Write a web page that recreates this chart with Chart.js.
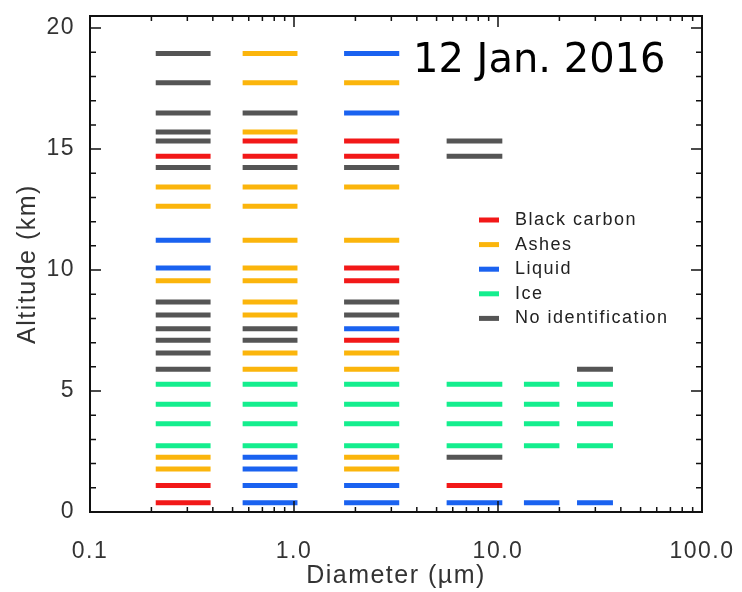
<!DOCTYPE html>
<html>
<head>
<meta charset="utf-8">
<script src="https://cdn.jsdelivr.net/npm/chart.js@4.4.1/dist/chart.umd.min.js"></script>
<style>
  html, body { margin: 0; padding: 0; background: #fff; }
  #wrap { width: 742px; height: 592px; }
</style>
</head>
<body>
<div id="wrap"><canvas id="chart"></canvas></div>
<script>
const binLow = [0.21, 0.56, 1.76, 5.6, 13.4, 24.4]
const binHigh = [0.39, 1.04, 3.28, 10.5, 20.0, 36.6]
const altitudes = [18.95, 17.74, 16.49, 15.71, 15.33, 14.70, 14.24, 13.43, 12.64, 11.23, 10.08, 9.56, 8.68,
  8.14, 7.57, 7.10, 6.57, 5.90, 5.28, 4.45, 3.65, 2.74, 2.26, 1.78, 1.10, 0.38]
// one letter per altitude: B black carbon, A ashes, L liquid, I ice, N no identification, . nothing
const column1 = 'NNNNNBNAALLANNNNNNIIIIAABB'
const column2 = 'AANABBNAAAAAAANNAAIIIILLLL'
const column3 = 'LAL.BBNA.ABBNNLBAAIIIIAALL'
const column4 = '....NN............IIIIN.BL'
const column5 = '..................IIII...L'
const column6 = '.................NIIII...L'
const xTicks = [0.1, 1, 10, 100]
const yTicks = [0, 5, 10, 15, 20]
const classCodes = ['B', 'A', 'L', 'I', 'N']
const classLabels = ['Black carbon', 'Ashes', 'Liquid', 'Ice', 'No identification']
const classColors = ['#f21818', '#fbb50c', '#1a62f0', '#14ee8e', '#555555']
const dateLabel = '12 Jan. 2016'

const columns = [column1, column2, column3, column4, column5, column6]

const datasets = classCodes.map((code, k) => {
  const data = []
  columns.forEach((col, c) => {
    col.split('').forEach((ch, i) => {
      if (ch !== code) return
      data.push({ x: binLow[c], y: altitudes[i] }, { x: binHigh[c], y: altitudes[i] }, { x: binHigh[c], y: null })
    })
  })
  return {
    label: classLabels[k],
    data,
    borderColor: classColors[k],
    backgroundColor: classColors[k],
    borderWidth: 5,
    borderCapStyle: 'butt',
    pointRadius: 0,
    showLine: true,
    spanGaps: false
  }
})

// IDL style box with inward ticks on all four sides
const framePlugin = {
  id: 'frame',
  beforeDraw (chart) {
    chart.ctx.letterSpacing = '1.5px'
  },
  afterDatasetsDraw (chart) {
    const { ctx, chartArea: a, scales: { x, y } } = chart
    ctx.save()
    ctx.strokeStyle = '#111'
    ctx.lineWidth = 1.5
    ctx.beginPath()
    for (let v = 0; v <= 20; v++) {
      const py = y.getPixelForValue(v)
      const len = v % 5 === 0 ? 11 : 6
      ctx.moveTo(a.left, py); ctx.lineTo(a.left + len, py)
      ctx.moveTo(a.right, py); ctx.lineTo(a.right - len, py)
    }
    for (let d = -1; d <= 1; d++) {
      for (let k = 1; k <= 10; k++) {
        const px = x.getPixelForValue(k * Math.pow(10, d))
        const len = (k === 1 || k === 10) ? 11 : 5
        ctx.moveTo(px, a.bottom); ctx.lineTo(px, a.bottom - len)
        ctx.moveTo(px, a.top); ctx.lineTo(px, a.top + len)
      }
    }
    ctx.stroke()
    ctx.lineWidth = 2
    ctx.strokeRect(a.left, a.top, a.right - a.left, a.bottom - a.top)
    ctx.restore()
  },
  afterDraw (chart) {
    const { ctx, chartArea: a } = chart
    ctx.save()
    ctx.font = '18px "Liberation Sans", Arial, sans-serif'
    ctx.textBaseline = 'middle'
    classLabels.forEach((lab, i) => {
      const ly = a.top + 204 + i * 24.6
      ctx.fillStyle = classColors[i]
      ctx.fillRect(a.left + 389, ly - 2.5, 20, 5)
      ctx.fillStyle = '#222'
      ctx.fillText(lab, a.left + 425, ly)
    })
    ctx.letterSpacing = '0px'
    ctx.font = '40px "DejaVu Sans", sans-serif'
    ctx.textBaseline = 'alphabetic'
    ctx.fillStyle = '#000'
    ctx.fillText(dateLabel, a.left + 323, a.top + 56)
    ctx.restore()
  }
}

new Chart(document.getElementById('chart'), {
  type: 'scatter',
  data: { datasets },
  options: {
    responsive: true,
    maintainAspectRatio: false,
    animation: false,
    layout: { padding: { left: 0, right: 40, top: 16, bottom: 0 } },
    plugins: {
      legend: { display: false },
      tooltip: { enabled: false }
    },
    scales: {
      x: {
        type: 'logarithmic',
        min: 0.1,
        max: 100,
        grid: { display: false },
        border: { display: false },
        afterBuildTicks: s => { s.ticks = xTicks.map(v => ({ value: v })) },
        afterFit: s => { s.height = 80; s.paddingLeft = 0; s.paddingRight = 0 },
        ticks: {
          padding: 18,
          color: '#333',
          maxRotation: 0,
          font: { family: '"Liberation Sans", Arial, sans-serif', size: 23 },
          callback: v => Number(v).toFixed(1)
        },
        title: {
          display: true,
          text: 'Diameter (\u00b5m)',
          color: '#333',
          padding: { top: 0, bottom: 1 },
          font: { family: '"Liberation Sans", Arial, sans-serif', size: 25 }
        }
      },
      y: {
        type: 'linear',
        min: 0,
        max: 20.5,
        grid: { display: false },
        border: { display: false },
        afterBuildTicks: s => { s.ticks = yTicks.map(v => ({ value: v })) },
        afterFit: s => { s.width = 90; s.paddingTop = 0; s.paddingBottom = 0 },
        ticks: {
          padding: 7,
          color: '#333',
          font: { family: '"Liberation Sans", Arial, sans-serif', size: 23 }
        },
        title: {
          display: true,
          text: 'Altitude (km)',
          color: '#333',
          padding: { top: 13, bottom: 0 },
          font: { family: '"Liberation Sans", Arial, sans-serif', size: 25 }
        }
      }
    }
  },
  plugins: [framePlugin]
})
</script>
</body>
</html>
